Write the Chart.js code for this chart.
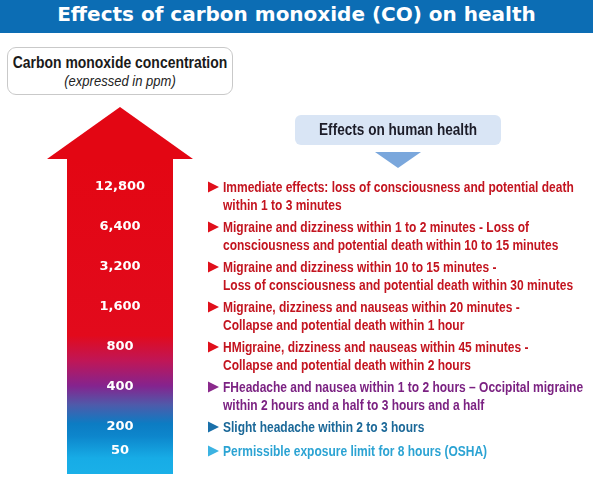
<!DOCTYPE html>
<html>
<head>
<meta charset="utf-8">
<script src="https://cdn.jsdelivr.net/npm/chart.js@4"></script>
<style>
    body { margin: 0; background: #fff; }
    #wrap { position: relative; width: 593px; height: 479px; overflow: hidden; background: #fff; }
    #title {
        position: absolute; left: 0; top: 0; width: 593px; height: 33px;
        background: #0c6db4; color: #fff; text-align: center;
        font: bold 20px "DejaVu Sans", sans-serif; line-height: 28px;
    }
    .line { position: relative; }
    .narrow {
        position: absolute; left: 50%; top: 0; white-space: nowrap;
        transform: translateX(-50%) scaleX(0.8);
    }
    #concBox {
        position: absolute; left: 7px; top: 47px; width: 224px; height: 46px;
        border: 1px solid #c9c9c9; border-radius: 9px; background: #fff;
        color: #1a1a1a; font-family: "Liberation Sans", Arial, sans-serif;
    }
    #concBox .b { font-weight: bold; font-size: 17px; margin-top: 5px; line-height: 20px; height: 20px; }
    #concBox .i { font-style: italic; font-size: 14px; line-height: 16px; height: 16px; color: #222; }
    #effBox {
        position: absolute; left: 295px; top: 115px; width: 206px; height: 30px;
        border-radius: 6px; background: #d9e5f5; color: #1c1c28;
        font: bold 16px "Liberation Sans", Arial, sans-serif; line-height: 30px;
    }
    #effTri {
        position: absolute; left: 375px; top: 152px; width: 0; height: 0;
        border-left: 23px solid transparent; border-right: 23px solid transparent;
        border-top: 16px solid #7aa7dc;
    }
    #coChart { position: absolute; left: 0; top: 0; }
</style>
</head>
<body>
<div id="wrap">
    <canvas id="coChart" width="593" height="479"></canvas>
    <div id="title">Effects of carbon monoxide (CO) on health</div>
    <div id="concBox">
        <div class="line b"><span class="narrow" style="transform: translateX(-50%) scaleX(0.82)">Carbon monoxide concentration</span></div>
        <div class="line i"><span class="narrow" style="transform: translateX(-50%) scaleX(0.93)">(expressed in ppm)</span></div>
    </div>
    <div id="effBox"><span class="narrow" style="transform: translateX(-50%) scaleX(0.85)">Effects on human health</span></div>
    <div id="effTri"></div>
</div>
<script>
// concentration levels in ppm, top of the arrow first
const levels = ["12,800", "6,400", "3,200", "1,600", "800", "400", "200", "50"];

const effects = [
    ["Immediate effects: loss of consciousness and potential death", "within 1 to 3 minutes"],
    ["Migraine and dizziness within 1 to 2 minutes - Loss of", "consciousness and potential death within 10 to 15 minutes"],
    ["Migraine and dizziness within 10 to 15 minutes -", "Loss of consciousness and potential death within 30 minutes"],
    ["Migraine, dizziness and nauseas within 20 minutes -", "Collapse and potential death within 1 hour"],
    ["HMigraine, dizziness and nauseas within 45 minutes -", "Collapse and potential death within 2 hours"],
    ["FHeadache and nausea within 1 to 2 hours \u2013 Occipital migraine", "within 2 hours and a half to 3 hours and a half"],
    ["Slight headache within 2 to 3 hours"],
    ["Permissible exposure limit for 8 hours (OSHA)"]
];

const textColors = ["#c3141f", "#c3141f", "#c3141f", "#c3141f", "#c3141f", "#7b2282", "#1b6898", "#2ba3d3"];
const markerColors = ["#e0101b", "#e0101b", "#e0101b", "#e0101b", "#e0101b", "#8a2a8c", "#1a70aa", "#3cb3e2"];

// each band of the arrow is as tall as its text block
const bandSizes = effects.map(lines => lines.length + 0.5);
const total = bandSizes.reduce((a, b) => a + b, 0);

let shaftGradient = null;
function getGradient(chart) {
    const area = chart.chartArea;
    if (!area) return "#e30613";
    if (shaftGradient) return shaftGradient;
    const g = chart.ctx.createLinearGradient(0, area.top, 0, area.bottom);
    g.addColorStop(0, "#e30613");
    g.addColorStop(0.56, "#e20a1c");
    g.addColorStop(0.64, "#c01656");
    g.addColorStop(0.72, "#85238e");
    g.addColorStop(0.78, "#4f5aaa");
    g.addColorStop(0.84, "#0c7cc3");
    g.addColorStop(0.88, "#0d86cc");
    g.addColorStop(0.95, "#17ace6");
    g.addColorStop(1, "#1ab0e8");
    shaftGradient = g;
    return g;
}

function narrowText(ctx, text, x, y, sx) {
    ctx.save();
    ctx.translate(x, y);
    ctx.scale(sx, 1);
    ctx.fillText(text, 0, 0);
    ctx.restore();
}

const arrowHead = {
    id: "arrowHead",
    beforeDatasetsDraw(chart) {
        const ctx = chart.ctx;
        const area = chart.chartArea;
        const topMeta = chart.getDatasetMeta(chart.data.datasets.length - 1);
        const bar = topMeta.data[0];
        const half = bar.width / 2;
        ctx.save();
        ctx.fillStyle = getGradient(chart);
        ctx.fillRect(bar.x - half, area.top - 1, bar.width, bar.y - area.top + 1);
        ctx.fillStyle = "#e30613";
        ctx.beginPath();
        ctx.moveTo(bar.x - half - 20, area.top);
        ctx.lineTo(bar.x, area.top - 52);
        ctx.lineTo(bar.x + half + 20, area.top);
        ctx.closePath();
        ctx.fill();
        ctx.restore();
    }
};

const bandLabels = {
    id: "bandLabels",
    afterDatasetsDraw(chart) {
        const ctx = chart.ctx;
        ctx.save();
        chart.data.datasets.forEach((ds, i) => {
            const bar = chart.getDatasetMeta(i).data[0];
            const k = ds.levelIndex;
            const y = bar.y + 10;

            ctx.fillStyle = "#fff";
            ctx.font = 'bold 13px "DejaVu Sans", sans-serif';
            ctx.textAlign = "center";
            ctx.textBaseline = "middle";
            ctx.fillText(levels[k], bar.x, y);

            const mx = bar.x + bar.width / 2 + 35;
            ctx.fillStyle = markerColors[k];
            ctx.beginPath();
            ctx.moveTo(mx, y - 5.5);
            ctx.lineTo(mx + 11, y);
            ctx.lineTo(mx, y + 5.5);
            ctx.closePath();
            ctx.fill();

            ctx.fillStyle = textColors[k];
            ctx.font = 'bold 15px "Liberation Sans", Arial, sans-serif';
            ctx.textAlign = "left";
            effects[k].forEach((line, j) => {
                narrowText(ctx, line, mx + 15, y + 1 + j * 17.5, 0.8);
            });
        });
        ctx.restore();
    }
};

// bottom band first so the stack grows upward
const datasets = levels.map((lvl, k) => ({
    label: lvl + " ppm",
    levelIndex: k,
    data: [bandSizes[k]],
    backgroundColor: ctx => getGradient(ctx.chart),
    borderWidth: 0,
    barPercentage: 1,
    categoryPercentage: 1
})).reverse();
datasets[0].base = -0.5625;

new Chart(document.getElementById("coChart"), {
    type: "bar",
    data: { labels: ["CO"], datasets: datasets },
    options: {
        responsive: false,
        animation: false,
        layout: { padding: { left: 67, right: 420, top: 159, bottom: 5 } },
        plugins: { legend: { display: false }, tooltip: { enabled: false } },
        scales: {
            x: { display: false, stacked: true },
            y: { display: false, stacked: true, min: -0.5625, max: total + 1.125 }
        }
    },
    plugins: [arrowHead, bandLabels]
});
</script>
</body>
</html>
